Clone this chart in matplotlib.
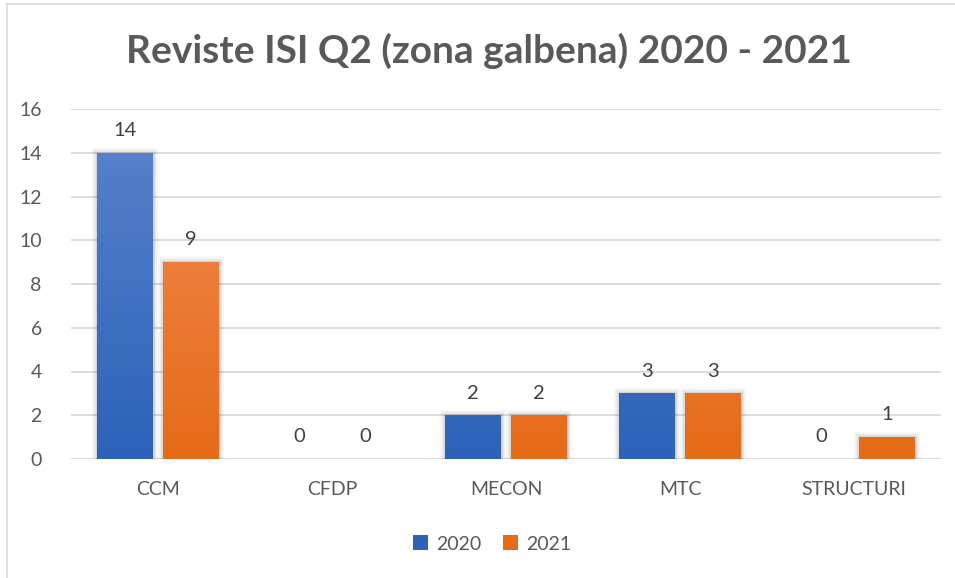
import numpy as np
import matplotlib
matplotlib.use("Agg")
import matplotlib.pyplot as plt
from matplotlib.colors import LinearSegmentedColormap
from matplotlib.lines import Line2D
from matplotlib.patches import Patch

plt.rcParams['font.family'] = ['Lato', 'DejaVu Sans']

# Data
categories = ['CCM', 'CFDP', 'MECON', 'MTC', 'STRUCTURI']
years = ['2020', '2021']
values_2020 = [14, 0, 2, 3, 0]
values_2021 = [9, 0, 2, 3, 1]
yticks = [0, 2, 4, 6, 8, 10, 12, 14, 16]

# gradient colours (top, bottom) for each series
grad_2020 = ('#5b84cc', '#2c62b8')
grad_2021 = ('#f28c58', '#e56b17')

fig = plt.figure(figsize=(9.55, 5.78), dpi=100)
ax = fig.add_axes([71 / 955, 119 / 578, 870 / 955, 350 / 578])

x = np.arange(len(categories))
width = 0.32
offset = 0.19


def gradient_bars(xpos, vals, colors):
    bars = ax.bar(xpos, vals, width, color='none', zorder=3)
    cmap = LinearSegmentedColormap.from_list('g', [colors[1], colors[0]])
    grad = np.linspace(0, 1, 256).reshape(-1, 1)
    for b in bars:
        h = b.get_height()
        if h <= 0:
            continue
        x0 = b.get_x()
        # soft shadow round the bar
        for lw, a in [(7, 0.04), (4, 0.06), (2, 0.08)]:
            ax.add_patch(plt.Rectangle((x0, 0), width, h, fill=False,
                                       edgecolor='black', linewidth=lw,
                                       alpha=a, zorder=2))
        im = ax.imshow(grad, cmap=cmap, origin='lower', aspect='auto',
                       extent=[x0, x0 + width, 0, 16], zorder=3)
        im.set_clip_path(b)
    return bars


gradient_bars(x - offset, values_2020, grad_2020)
gradient_bars(x + offset, values_2021, grad_2021)

# value labels
for xs, vals in [(x - offset, values_2020), (x + offset, values_2021)]:
    for xi, v in zip(xs, vals):
        ax.annotate(str(v), (xi, v), xytext=(0, 12), textcoords='offset points',
                    ha='center', va='baseline', fontsize=14.5, color='#404040')

ax.set_xlim(-0.5, len(categories) - 0.5)
ax.set_ylim(0, 16)
ax.set_yticks(yticks)
ax.set_xticks(x)
ax.set_xticklabels(categories)
ax.tick_params(axis='both', length=0, labelsize=14, labelcolor='#595959')
ax.tick_params(axis='y', pad=21)
ax.tick_params(axis='x', pad=16)
ax.grid(axis='y', color='#d9d9d9', linewidth=1.3, zorder=0)
ax.set_axisbelow(True)
for s in ax.spines.values():
    s.set_visible(False)

fig.text(489 / 955, 1 - 51 / 578, 'Reviste ISI Q2 (zona galbena) 2020 - 2021',
         ha='center', va='center', fontsize=28, fontweight='bold',
         color='#595959')

handles = [Patch(facecolor=grad_2020[1], edgecolor='none'),
           Patch(facecolor=grad_2021[1], edgecolor='none')]
fig.legend(handles, years, loc='center', bbox_to_anchor=(492 / 955, 1 - 544 / 578),
           ncol=2, frameon=False, fontsize=14, labelcolor='#595959',
           handlelength=0.8, handleheight=0.8, handletextpad=0.4,
           columnspacing=1.1)

# chart frame (left and top edges)
fig.add_artist(Line2D([7 / 955, 7 / 955], [0, 1 - 4 / 578], color='#d9d9d9',
                      linewidth=1.2, transform=fig.transFigure))
fig.add_artist(Line2D([7 / 955, 1], [1 - 4 / 578, 1 - 4 / 578], color='#d9d9d9',
                      linewidth=1.2, transform=fig.transFigure))

fig.savefig('out.png', dpi=100, facecolor='white')
